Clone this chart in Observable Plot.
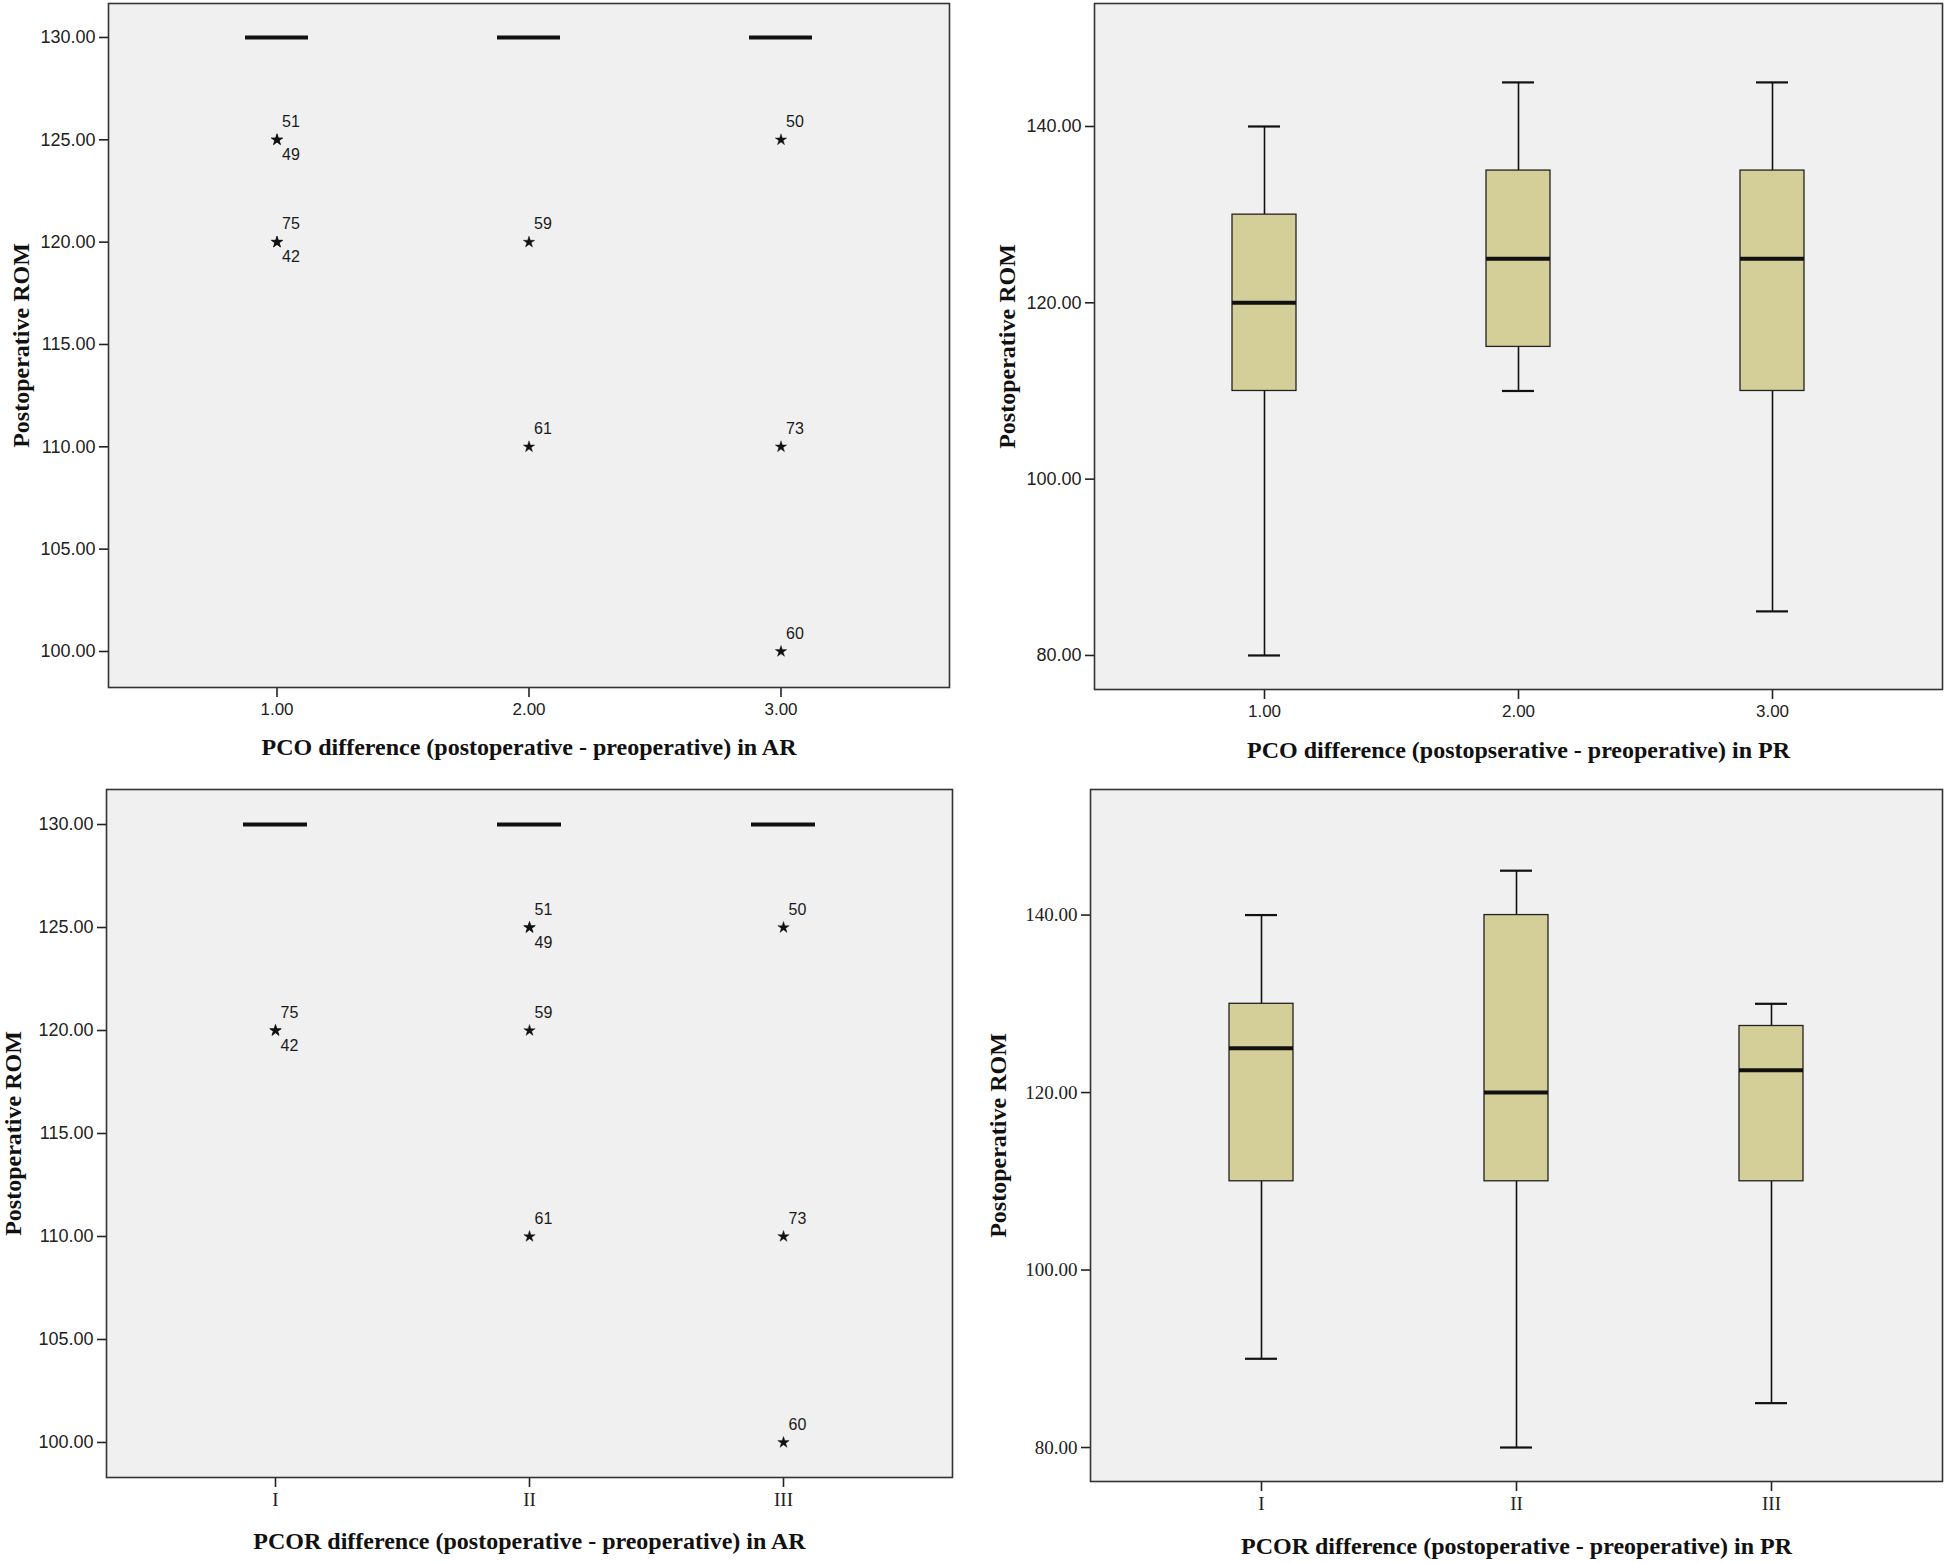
<!DOCTYPE html>
<html>
<head>
<meta charset="utf-8">
<script src="https://cdn.jsdelivr.net/npm/d3@7"></script>
<script src="https://cdn.jsdelivr.net/npm/@observablehq/plot@0.6"></script>
<style>
  html, body { margin: 0; padding: 0; background: #ffffff; }
  #wrap { position: relative; width: 1946px; height: 1563px; background: #ffffff; overflow: hidden; }
  #wrap > div { position: absolute; }
</style>
</head>
<body>
<div id="wrap">
  <div id="pA" style="left:0px;top:0px"></div>
  <div id="pB" style="left:973px;top:0px"></div>
  <div id="pC" style="left:0px;top:780px"></div>
  <div id="pD" style="left:973px;top:780px"></div>
</div>
<script>
// ---------- categories & tick values ----------
const numGroups = ["1.00", "2.00", "3.00"];
const romanGroups = ["I", "II", "III"];
const yTicksAR = [100, 105, 110, 115, 120, 125, 130];
const yTicksPR = [80, 100, 120, 140];

// ---------- Panel A: PCO difference in AR (boxes collapse at 130) ----------
const pcoArMin = [130, 130, 130];
const pcoArQ1 = [130, 130, 130];
const pcoArMed = [130, 130, 130];
const pcoArQ3 = [130, 130, 130];
const pcoArMax = [130, 130, 130];
const pcoArOutGroup = ["1.00", "1.00", "1.00", "1.00", "2.00", "2.00", "3.00", "3.00", "3.00"];
const pcoArOutValue = [125, 125, 120, 120, 120, 110, 125, 110, 100];
const pcoArOutCase = ["51", "49", "75", "42", "59", "61", "50", "73", "60"];
const pcoArOutSide = ["above", "below", "above", "below", "above", "above", "above", "above", "above"];

// ---------- Panel B: PCO difference in PR ----------
const pcoPrMin = [80, 110, 85];
const pcoPrQ1 = [110, 115, 110];
const pcoPrMed = [120, 125, 125];
const pcoPrQ3 = [130, 135, 135];
const pcoPrMax = [140, 145, 145];

// ---------- Panel C: PCOR difference in AR (boxes collapse at 130) ----------
const pcorArMin = [130, 130, 130];
const pcorArQ1 = [130, 130, 130];
const pcorArMed = [130, 130, 130];
const pcorArQ3 = [130, 130, 130];
const pcorArMax = [130, 130, 130];
const pcorArOutGroup = ["I", "I", "II", "II", "II", "II", "III", "III", "III"];
const pcorArOutValue = [120, 120, 125, 125, 120, 110, 125, 110, 100];
const pcorArOutCase = ["75", "42", "51", "49", "59", "61", "50", "73", "60"];
const pcorArOutSide = ["above", "below", "above", "below", "above", "above", "above", "above", "above"];

// ---------- Panel D: PCOR difference in PR ----------
const pcorPrMin = [90, 80, 85];
const pcorPrQ1 = [110, 110, 110];
const pcorPrMed = [125, 120, 122.5];
const pcorPrQ3 = [130, 140, 127.5];
const pcorPrMax = [140, 145, 130];

// ---------- titles ----------
const yTitle = "Postoperative ROM";
const xTitleA = "PCO difference (postoperative - preoperative) in AR";
const xTitleB = "PCO difference (postopserative - preoperative) in PR";
const xTitleC = "PCOR difference (postoperative - preoperative) in AR";
const xTitleD = "PCOR difference (postoperative - preoperative) in PR";

// ---------- helpers ----------
function boxTable(groups, mn, q1, md, q3, mx) {
  return groups.map((g, i) => ({g, min: mn[i], q1: q1[i], med: md[i], q3: q3[i], max: mx[i]}));
}
function outTable(groups, values, cases, sides) {
  return groups.map((g, i) => ({g, v: values[i], id: cases[i], side: sides[i]}));
}

const SANS = "'Liberation Sans', Arial, Helvetica, sans-serif";
const SERIF = "'Liberation Serif', 'Times New Roman', Times, serif";
const BG = "#f0f0f0";
const BOX = "#d4cf99";
const INK = "#111111";

function panel(cfg) {
  const boxes = cfg.boxes;
  const outs = cfg.outs || [];
  const marks = [
    Plot.frame({fill: BG, stroke: null}),
    Plot.ruleX(boxes, {x: "g", y1: "min", y2: "q1", stroke: INK, strokeWidth: 1.6}),
    Plot.ruleX(boxes, {x: "g", y1: "q3", y2: "max", stroke: INK, strokeWidth: 1.6}),
    Plot.tickY(boxes, {x: "g", y: "max", stroke: INK, strokeWidth: 2.2, insetLeft: 16, insetRight: 16}),
    Plot.tickY(boxes, {x: "g", y: "min", stroke: INK, strokeWidth: 2.2, insetLeft: 16, insetRight: 16}),
    Plot.barY(boxes, {x: "g", y1: "q1", y2: "q3", fill: BOX, stroke: "#222", strokeWidth: 1.3}),
    Plot.tickY(boxes, {x: "g", y: "med", stroke: INK, strokeWidth: 4}),
    Plot.dot(outs, {x: "g", y: "v", symbol: "star", r: 3.6, fill: INK, stroke: INK, strokeWidth: 0.4}),
    Plot.text(outs.filter(d => d.side === "above"), {x: "g", y: "v", text: "id", dx: 5, dy: -18, textAnchor: "start",
      fontSize: 16, fontFamily: SANS, fill: "#1a1a1a"}),
    Plot.text(outs.filter(d => d.side === "below"), {x: "g", y: "v", text: "id", dx: 5, dy: 15, textAnchor: "start",
      fontSize: 16, fontFamily: SANS, fill: "#1a1a1a"}),
    Plot.axisY({ticks: cfg.yTicks, tickFormat: d => d.toFixed(2), tickSize: 9, tickPadding: 4, label: null,
      fontSize: cfg.yTickSize, fontFamily: cfg.yTickFont, fill: "#222", stroke: "#222", strokeWidth: 1.6}),
    Plot.axisX({tickSize: 10, tickPadding: 5, label: null, fontSize: cfg.xTickSize, fontFamily: cfg.xTickFont,
      fill: "#222", stroke: "#222", strokeWidth: 1.6}),
    Plot.text([yTitle], {frameAnchor: "left", dx: cfg.yTitleDx, rotate: -90, text: d => d, fontSize: 24,
      fontWeight: "bold", fontFamily: SERIF, fill: INK, textAnchor: "middle", lineAnchor: "middle"}),
    Plot.text([cfg.xTitle], {frameAnchor: "bottom", dy: cfg.xTitleDy, text: d => d, fontSize: 24,
      fontWeight: "bold", fontFamily: SERIF, fill: INK, textAnchor: "middle", lineAnchor: "middle"}),
    Plot.frame({stroke: "#333", strokeWidth: 1.6, fill: "none"})
  ];
  return Plot.plot({
    width: cfg.width,
    height: cfg.height,
    marginLeft: cfg.m[0],
    marginTop: cfg.m[1],
    marginRight: cfg.m[2],
    marginBottom: cfg.m[3],
    style: {background: "transparent", overflow: "visible"},
    x: {type: "band", domain: cfg.groups, paddingInner: 0.75, paddingOuter: 0.54, align: 0.5},
    y: {domain: cfg.yDomain},
    marks
  });
}

document.getElementById("pA").appendChild(panel({
  width: 973, height: 780, m: [108, 3, 24, 93],
  groups: numGroups, yDomain: [98.24, 131.66], yTicks: yTicksAR,
  boxes: boxTable(numGroups, pcoArMin, pcoArQ1, pcoArMed, pcoArQ3, pcoArMax),
  outs: outTable(pcoArOutGroup, pcoArOutValue, pcoArOutCase, pcoArOutSide),
  yTickFont: SANS, yTickSize: 18, xTickFont: SANS, xTickSize: 17,
  yTitleDx: -87, xTitle: xTitleA, xTitleDy: 60
}));

document.getElementById("pB").appendChild(panel({
  width: 973, height: 780, m: [121, 3, 4, 91],
  groups: numGroups, yDomain: [76.14, 153.95], yTicks: yTicksPR,
  boxes: boxTable(numGroups, pcoPrMin, pcoPrQ1, pcoPrMed, pcoPrQ3, pcoPrMax),
  outs: [],
  yTickFont: SANS, yTickSize: 18, xTickFont: SANS, xTickSize: 17,
  yTitleDx: -87, xTitle: xTitleB, xTitleDy: 61
}));

document.getElementById("pC").appendChild(panel({
  width: 973, height: 783, m: [106, 9, 21, 86],
  groups: romanGroups, yDomain: [98.3, 131.7], yTicks: yTicksAR,
  boxes: boxTable(romanGroups, pcorArMin, pcorArQ1, pcorArMed, pcorArQ3, pcorArMax),
  outs: outTable(pcorArOutGroup, pcorArOutValue, pcorArOutCase, pcorArOutSide),
  yTickFont: SANS, yTickSize: 18, xTickFont: SERIF, xTickSize: 19,
  yTitleDx: -93, xTitle: xTitleC, xTitleDy: 64
}));

document.getElementById("pD").appendChild(panel({
  width: 973, height: 783, m: [117, 9, 4, 82],
  groups: romanGroups, yDomain: [76.17, 154.15], yTicks: yTicksPR,
  boxes: boxTable(romanGroups, pcorPrMin, pcorPrQ1, pcorPrMed, pcorPrQ3, pcorPrMax),
  outs: [],
  yTickFont: SERIF, yTickSize: 19, xTickFont: SERIF, xTickSize: 19,
  yTitleDx: -92, xTitle: xTitleD, xTitleDy: 65
}));
</script>
</body>
</html>
